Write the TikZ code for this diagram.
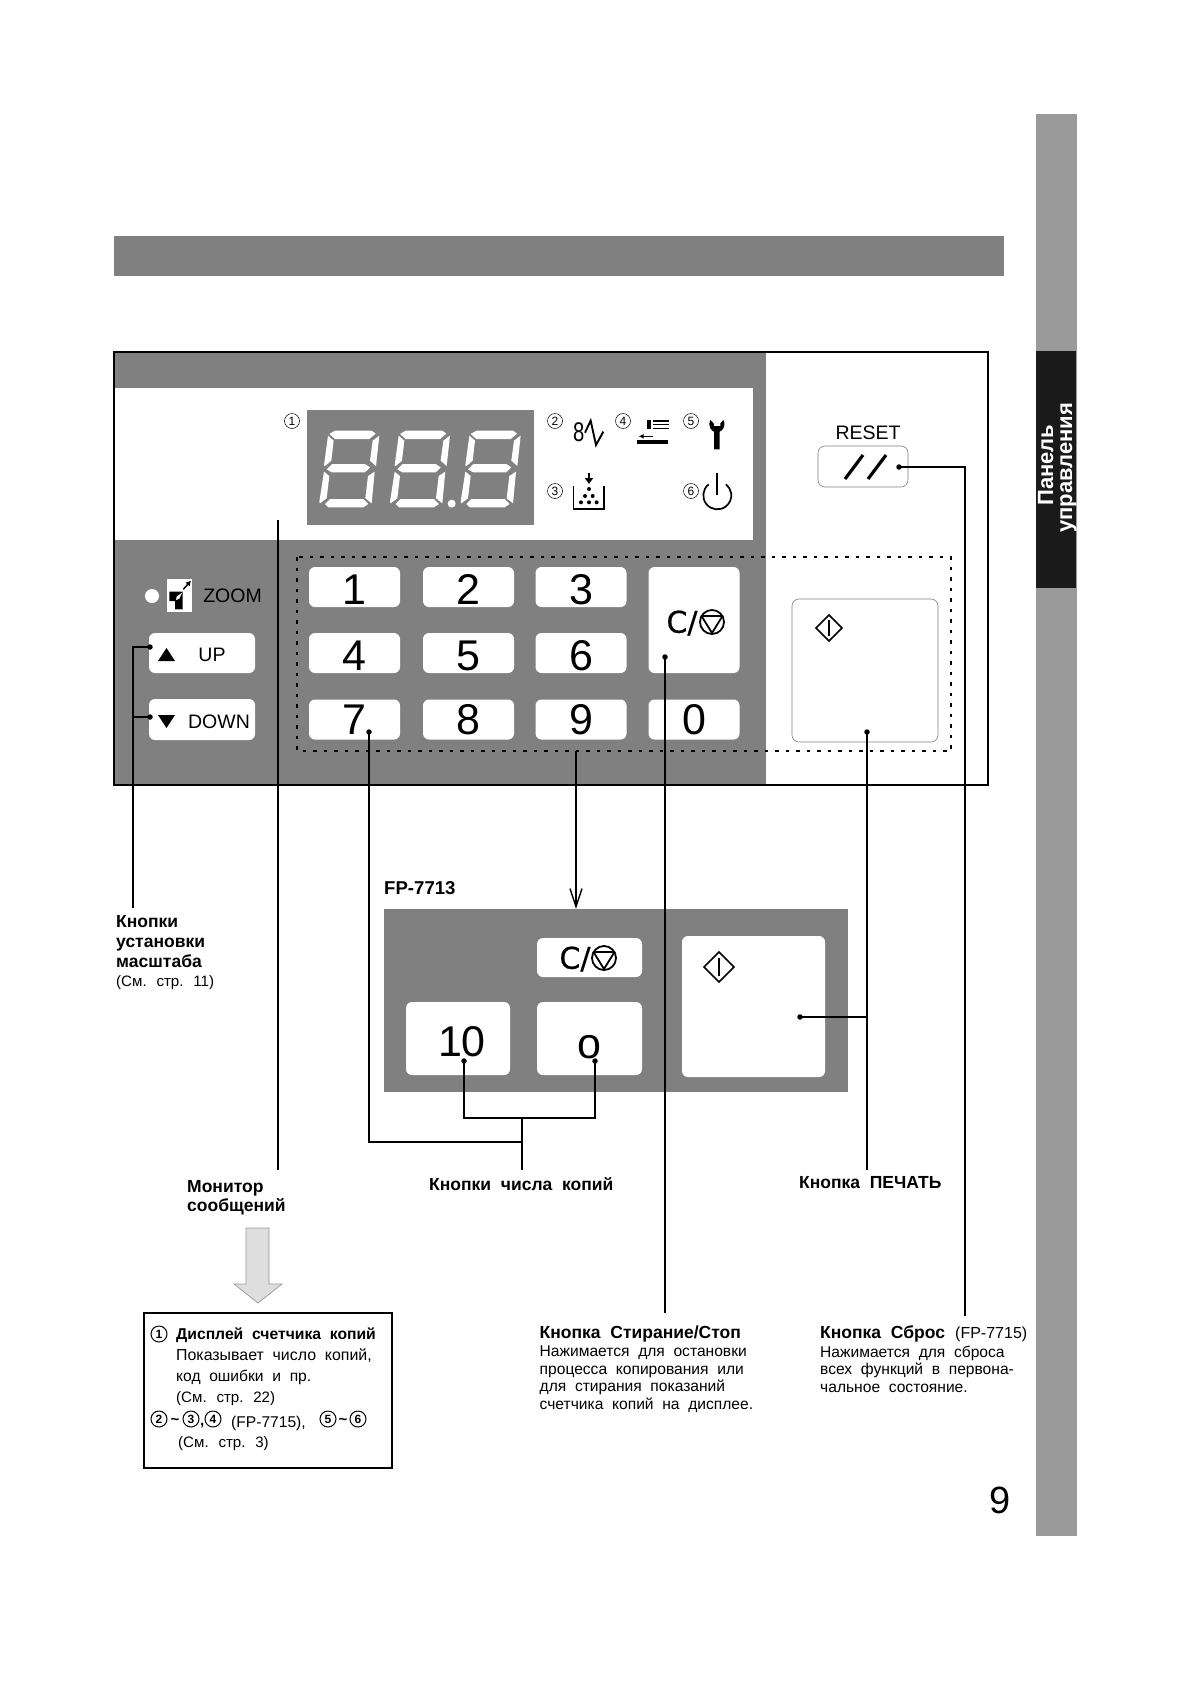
\documentclass[tikz,border=0pt]{standalone}
\usepackage{fontspec}
\setmainfont{Liberation Sans}[WordSpace=2]
\newfontfamily\cfont[FakeBold=0.6]{DejaVu Sans}
\usetikzlibrary{arrows.meta,shapes.geometric}
\definecolor{pgray}{HTML}{808080}
\definecolor{sgray}{HTML}{9A9A9A}
\definecolor{sblack}{HTML}{1A1A1A}
\newcommand\sevsegdigit{%
    \fill[white] (195,122) -- (305,122) -- (317,131) -- (298,147) -- (195,147) -- (178,132) -- cycle;
    \fill[white] (174,137) -- (191,152) -- (184,212) -- (165,228) -- (162,226) -- cycle;
    \fill[white] (328,137) -- (308,152) -- (300,212) -- (318,228) -- cycle;
    \fill[white] (170,238) -- (186,222) -- (285,222) -- (300,232) -- (285,247) -- (185,247) -- cycle;
    \fill[white] (162,245) -- (178,258) -- (170,325) -- (150,340) -- (148,335) -- cycle;
    \fill[white] (314,245) -- (294,258) -- (286,325) -- (305,340) -- cycle;
    \fill[white] (165,342) -- (180,327) -- (280,327) -- (295,342) -- (280,352) -- (175,352) -- cycle;
}
\tikzset{
  px/.style={x=1pt,y=-1pt},
  keyb/.style={fill=white,rounded corners=6pt,inner sep=0pt,minimum width=#1},
  keyb/.default=91pt,
  numkey/.style={keyb,minimum height=40pt,font=\fontsize{43}{43}\selectfont},
  numkeylow/.style={numkey,text height=34pt,text depth=0pt},
  wire/.style={draw=black,line width=1.5pt},
  blob/.style={circle,fill=black,inner sep=0pt,minimum size=5.5pt},
  cnum/.style={circle,draw=black,line width=0.5pt,inner sep=0pt,minimum size=15pt,font=\fontsize{12}{12}\selectfont},
  cnumb/.style={circle,draw=black,line width=1pt,inner sep=0pt,minimum size=16pt,font=\fontsize{12}{12}\selectfont\bfseries},
  lb/.style={anchor=base west,inner sep=0pt,font=\fontsize{17.5}{17}\selectfont\bfseries},
  lr/.style={anchor=base west,inner sep=0pt,font=\fontsize{15.6}{16}\selectfont},
  lrs/.style={anchor=base west,inner sep=0pt,font=\fontsize{15.1}{16}\selectfont},
  keytext/.style={inner sep=0pt,font=\fontsize{19.5}{20}\selectfont},
  cstop/.style={inner sep=0pt,font=\fontsize{30}{30}\cfont},
  tildeb/.style={inner sep=0pt,font=\fontsize{15}{15}\selectfont\bfseries},
  sidet/.style={anchor=base west,inner sep=0pt,rotate=90,text=white,font=\fontsize{22}{22}\selectfont\bfseries},
  stopsym/.pic={
    \draw[line width=1.8pt] (0,0) circle (12);
    \draw[line width=1.8pt,line join=round] (-10.5,-6) -- (10.5,-6) -- (0,11) -- cycle;
  },
  startsym/.pic={
    \draw[line width=1.6pt] (-#1,0) -- (0,-#1) -- (#1,0) -- (0,#1) -- cycle;
    \fill (-1.3,-0.62*#1) rectangle (1.3,0.62*#1);
  }
}
\begin{document}
\begin{tikzpicture}[px]
\useasboundingbox (0,0) rectangle (1190,1684);
\fill[white] (0,0) rectangle (1190,1684);
% side bar
\fill[sgray] (1036,114) rectangle (1077,1536);
\fill[sblack] (1036,351) rectangle (1076,588);
\node[sidet] (sideA) at (1053,506) {Панель};
\node[sidet] (sideB) at (1072,533) {управления};
% top bar
\fill[pgray] (114,236) rectangle (1004,276);
% panel
\fill[pgray] (114,352) rectangle (766,785);
\fill[white] (114,388) rectangle (753,540);
\fill[pgray] (307,410) rectangle (534,525);
\draw[line width=1.3pt] (114,352) rectangle (988,785);
% seven segment
\begin{scope}[shift={(270,390)},xscale=1/3,yscale=1/3]
  \sevsegdigit
  \begin{scope}[xshift=212pt]\sevsegdigit\end{scope}
  \begin{scope}[xshift=424pt]\sevsegdigit\end{scope}
  \fill[white] (545,341) circle (12);
\end{scope}
% circled numbers
\node[cnum] (n1) at (292,421) {1};
\node[cnum] (n2) at (555,421) {2};
\node[cnum] (n4) at (623,421) {4};
\node[cnum] (n5) at (691,421) {5};
\node[cnum] (n3) at (555,491) {3};
\node[cnum] (n6) at (691,491) {6};
% status icons
\begin{scope}[shift={(270,390)},xscale=1/3,yscale=1/3]
  \node[inner sep=0pt,font=\fontsize{27}{27}\selectfont] (eight) at (926,128) {\scalebox{0.75}[1]{8}};
  \draw[line width=1.9pt,line join=miter] (945,128) -- (962,92) -- (978,165) -- (1000,125);
  % paper
  \fill (1132,90) rectangle (1143,118);
  \fill (1150,89) rectangle (1197,95);
  \fill (1150,101) rectangle (1197,106);
  \fill (1150,113) rectangle (1197,118);
  \draw[line width=1.2pt,-{Latex[length=5pt,width=5pt]}] (1150,139) -- (1106,139);
  \fill (1102,149) rectangle (1195,161);
  % wrench
  \fill (1321,90) .. controls (1312,112) and (1326,122) .. (1332,125) -- (1332,178) -- (1349,178) -- (1349,125) .. controls (1356,122) and (1370,110) .. (1360,90) -- (1351,100) -- (1351,108) -- (1332,108) -- (1331,100) -- cycle;
  % toner
  \draw[line width=1.3pt] (910,288) -- (910,357) -- (1002,357) -- (1002,288);
  \draw[line width=1.6pt,-{Triangle[length=6pt,width=8pt]}] (957,248) -- (957,282);
  \foreach \xx/\yy in {957/297,945/318,968/318,933/337,957/337,980/337}{\fill (\xx,\yy) circle (6);}
  % power
  \draw[line width=1.7pt] (1342,250) -- (1342,315);
  \draw[line width=1.7pt] (1316.1,282.9) arc[start angle=232,end angle=-52,radius=42];
\end{scope}
% zoom cluster
\fill[white] (152,596) circle (7);
\fill[white] (167,579) rectangle (192,612);
\begin{scope}[shift={(110,540)},xscale=1/3,yscale=1/3]
  \fill (178,155) -- (218,155) -- (218,208) -- (195,208) -- (195,183) -- (178,183) -- cycle;
  \fill[white] (198,180) -- (200,170) -- (216,158) -- (208,176) -- cycle;
  \draw[line width=1.4pt,-{Latex[length=5pt,width=6pt]}] (220,148) -- (243,122);
\end{scope}
\node[keytext] (zoomt) at (232.5,596) {ZOOM};
% up down
\node[keyb=106pt,minimum height=40pt] (kUp) at (202,653) {};
\node[keyb=106pt,minimum height=41pt] (kDown) at (202,719.5) {};
\fill (158,661) -- (175,661) -- (166.5,648) -- cycle;
\fill (158,715) -- (175,715) -- (166.5,728) -- cycle;
\node[keytext] (upt) at (212,655) {UP};
\node[keytext] (downt) at (219,722) {DOWN};
% dotted frame
\draw[line width=1.7pt,dash pattern=on 3.5pt off 7pt] (297,557) rectangle (951,751);
% number keys
\node[numkeylow] (k1) at (354.5,587) {1};
\node[numkeylow] (k2) at (468.5,587) {2};
\node[numkeylow] (k3) at (581,587) {3};
\node[numkeylow] (k4) at (354.5,653) {4};
\node[numkeylow] (k5) at (468.5,653) {5};
\node[numkeylow] (k6) at (581,653) {6};
\node[numkey] (k7) at (354.5,719.5) {7};
\node[numkey] (k8) at (468.5,719.5) {8};
\node[numkey] (k9) at (581,719.5) {9};
\node[numkey] (k0) at (694,719.5) {0};
\node[keyb,minimum height=106pt] (kC) at (694,620) {};
\node[cstop] (ct) at (682,623) {C/};
\pic at (712,622) {stopsym};
% reset
\node[inner sep=0pt,font=\fontsize{19.5}{19}\selectfont] (rest) at (868,433) {RESET};
\node[draw=gray,line width=0.6pt,rounded corners=7pt,inner sep=0pt,minimum width=90pt,minimum height=41pt] (kReset) at (863,466.5) {};
\draw[line width=3.2pt] (845,479) -- (863,455);
\draw[line width=3.2pt] (868,479) -- (886,455);
% start key
\node[draw=gray,line width=0.6pt,rounded corners=7pt,inner sep=0pt,minimum width=146pt,minimum height=143pt] (kStart) at (865,670.5) {};
\pic at (829,628) {startsym=13};
% FP panel
\node[anchor=base west,inner sep=0pt,font=\fontsize{18.6}{18}\selectfont\bfseries] (fpl) at (384,894) {FP-7713};
\node[fill=pgray,inner sep=0pt,minimum width=464pt,minimum height=183pt] (fp) at (616,1000.5) {};
\node[keyb=105pt,minimum height=39pt] (fC) at (589.5,957.5) {};
\node[cstop] (fct) at (575,959) {C/};
\pic at (604,958) {stopsym};
\node[keyb=104pt,minimum height=73pt] (f10) at (458,1038.5) {};
\node[inner sep=0pt,font=\fontsize{43}{43}\selectfont] (t10) at (462,1042) {10};
\node[keyb=105pt,minimum height=73pt] (f0) at (589.5,1038.5) {};
\node[inner sep=0pt,font=\fontsize{43}{43}\selectfont] (t0) at (589,1047) {o};
\node[keyb=143pt,minimum height=141pt] (fS) at (753.5,1006.5) {};
\pic at (719,967) {startsym=15};
% labels
\node[lb] (lZoomA) at (116,927) {Кнопки};
\node[lb] (lZoomB) at (116,947) {установки};
\node[lb] (lZoomC) at (116,967) {масштаба};
\node[lrs] (lZoomD) at (116,986) {(См. стр. 11)};
\node[lb] (lMonA) at (187,1192) {Монитор};
\node[lb] (lMonB) at (187,1211) {сообщений};
\node[lb] (lCopies) at (429,1190) {Кнопки числа копий};
\node[lb] (lPrint) at (799,1188) {Кнопка ПЕЧАТЬ};
\node[lb] (lStopA) at (539.5,1338) {Кнопка Стирание/Стоп};
\node[lr] (lStopB) at (539.5,1356) {Нажимается для остановки};
\node[lr] (lStopC) at (539.5,1374) {процесса копирования или};
\node[lr] (lStopD) at (539.5,1391) {для стирания показаний};
\node[lr] (lStopE) at (539.5,1409) {счетчика копий на дисплее.};
\node[lb] (lResA) at (820,1338) {Кнопка Сброс};
\node[lr,font=\fontsize{16}{17}\selectfont] (lResA2) at (955,1338) {(FP-7715)};
\node[lr] (lResB) at (820,1357) {Нажимается для сброса};
\node[lr] (lResC) at (820,1374) {всех функций в первона-};
\node[lr] (lResD) at (820,1392) {чальное состояние.};
% connector ends
\coordinate (cZoomEnd) at (133,908);
\coordinate (cMon) at (278,1170);
\coordinate (cMonTop) at (278,520);
\coordinate (cBracket) at (522,1118);
\coordinate (cCopies) at (522,1170);
\coordinate (cJoin) at (522,1142);
\coordinate (cPrint) at (867,1170);
\coordinate (cStop) at (665,1313);
\coordinate (cReset) at (965,1316);
\coordinate (cFrame) at (576,751);
% blobs
\node[blob] (dUp) at (150,647) {};
\node[blob] (dDown) at (150,717) {};
\node[blob] (d7) at (369,732) {};
\node[blob] (dC) at (665,657) {};
\node[blob] (dS) at (867,732) {};
\node[blob] (dR) at (899,467) {};
\node[blob] (d10) at (464,1061) {};
\node[blob] (d0) at (595,1061) {};
\node[blob] (dFS) at (800,1017) {};
% connectors
\draw[wire] (dUp.center) -| (cZoomEnd);
\draw[wire] (dDown.center) -- (dDown.center -| cZoomEnd);
\draw[wire] (cMonTop) -- (cMon);
\draw[wire] (d7.center) |- (cJoin);
\draw[wire] (cBracket) -- (cCopies);
\draw[wire] (d10.center) |- (cBracket) -| (d0.center);
\draw[wire] (dC.center) -- (cStop);
\draw[wire] (dS.center) -- (cPrint);
\draw[wire] (dFS.center) -- (dFS.center -| dS);
\draw[wire] (dR.center) -| (cReset);
\draw[line width=1.4pt,-{Straight Barb[length=18pt,width=12pt]}] (cFrame) -- (cFrame |- fp.north);
% hollow arrow
\draw[draw=gray!80,fill=black!13,line width=0.7pt] (246,1228) -- (269,1228) -- (269,1284) -- (282,1284) -- (258,1303) -- (234,1284) -- (246,1284) -- cycle;
% box
\node[draw=black,line width=1.3pt,inner sep=0pt,minimum width=248pt,minimum height=155pt] (box) at (268,1390.5) {};
\node[cnumb] (b1) at (159,1334) {1};
\node[lb,font=\fontsize{15.7}{16}\selectfont\bfseries] (bA) at (176,1339) {Дисплей счетчика копий};
\node[lr,font=\fontsize{15.9}{16}\selectfont] (bB) at (176,1360) {Показывает число копий,};
\node[lr] (bC) at (176,1381) {код ошибки и пр.};
\node[lrs] (bD) at (176,1402) {(См. стр. 22)};
\node[cnumb] (b2) at (159,1419) {2};
\node[tildeb] (bt1) at (175,1421) {\char`\~};
\node[cnumb] (b3) at (191,1419) {3};
\node[lb,font=\fontsize{15}{15}\selectfont\bfseries] (bcm) at (200,1425) {,};
\node[cnumb] (b4) at (213,1419) {4};
\node[lr] (bFP) at (231,1427) {(FP-7715),};
\node[cnumb] (b5) at (328,1419) {5};
\node[tildeb] (bt2) at (343,1421) {\char`\~};
\node[cnumb] (b6) at (358,1419) {6};
\node[lrs] (bE) at (178,1447) {(См. стр. 3)};
% page number
\node[inner sep=0pt,font=\fontsize{38}{38}\selectfont] (pg) at (1000.5,1500) {9};
\end{tikzpicture}
\end{document}
